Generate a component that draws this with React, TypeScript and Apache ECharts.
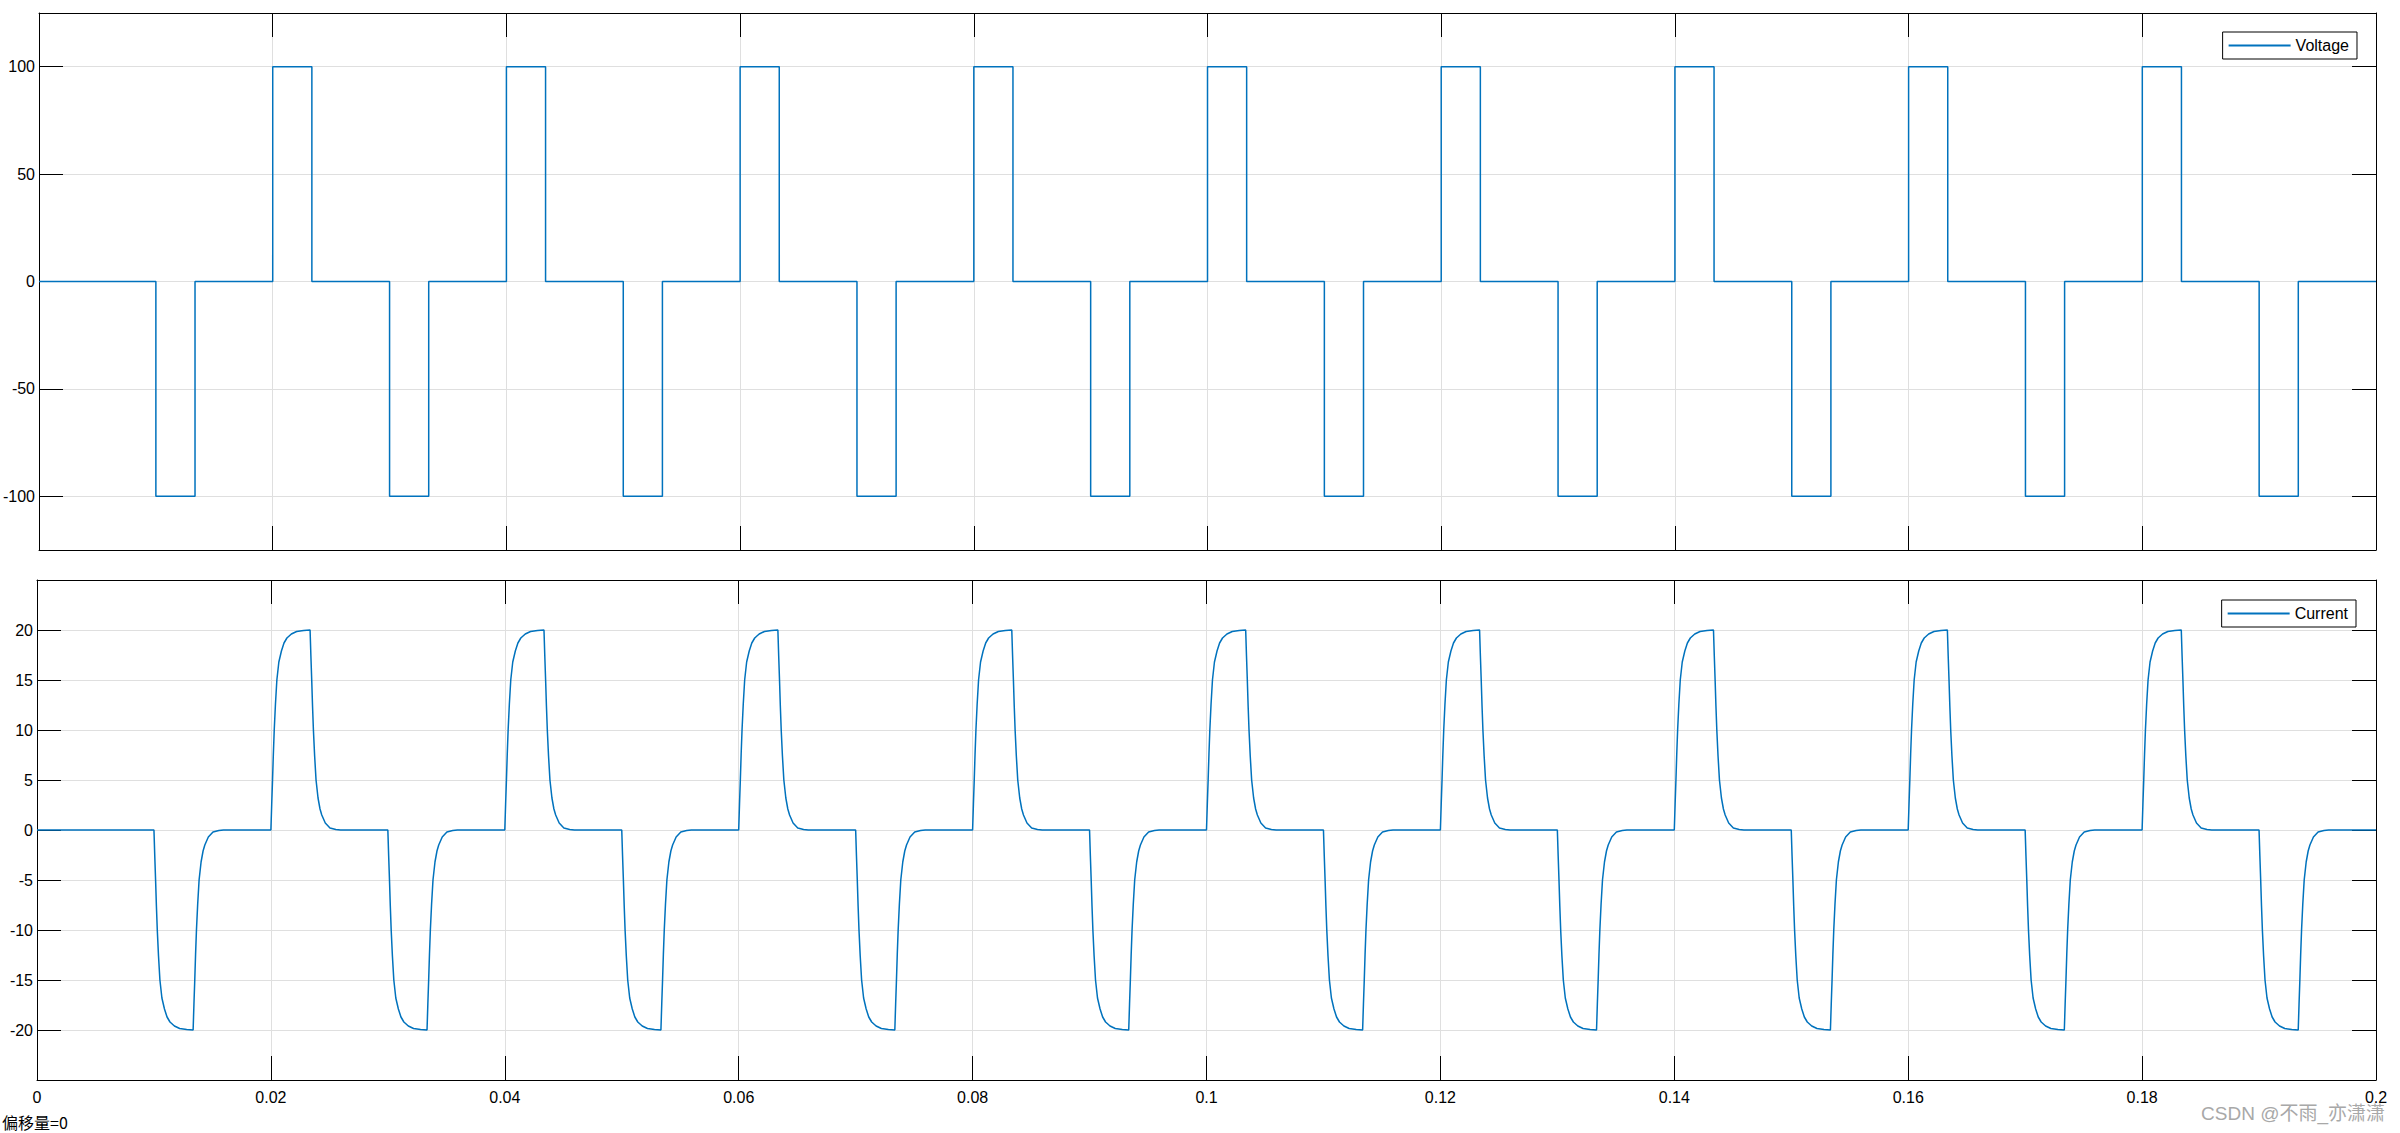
import React, { useEffect, useRef } from "react";
import * as echarts from "echarts";

// Pulse timing (seconds)
const positivePulseStarts = [0.02, 0.04, 0.06, 0.08, 0.1, 0.12, 0.14, 0.16, 0.18];
const negativePulseStarts = [0.01, 0.03, 0.05, 0.07, 0.09, 0.11, 0.13, 0.15, 0.17, 0.19];
const pulseWidth = 0.00335;
const voltageLevel = 100;

// Current pulse shape: time after pulse edge (ms) and value (A)
const currentRiseMs = [0, 0.07, 0.14, 0.21, 0.285, 0.39, 0.51, 0.68, 0.9, 1.12, 1.37, 1.75, 2.2, 2.8];
const currentRiseValue = [0, 2.6, 5, 7.6, 10, 12.6, 15, 16.8, 17.9, 18.7, 19.2, 19.6, 19.85, 19.95];
const currentFallMs = [0, 0.07, 0.14, 0.21, 0.285, 0.39, 0.51, 0.68, 0.85, 1.0, 1.3, 1.7, 2.2, 2.6];
const currentFallValue = [20, 17.4, 15, 12.4, 10, 7.4, 5, 3.2, 2.1, 1.5, 0.7, 0.2, 0.06, 0];

const xRange = [0, 0.2];
const voltageRange = [-125, 125];
const currentRange = [-25, 25];

const seriesNames = ["Voltage", "Current"];
const footerText = "偏移量=0";
const watermarkText = "CSDN @不雨_亦潇潇";

const FONT = '"Liberation Sans", Arial, Helvetica, sans-serif';
const LINE_COLOR = "#0072BD";
const AXIS_COLOR = "#000000";
const GRID_COLOR = "#dfdfdf";

const pulses = [
  ...positivePulseStarts.map((t) => ({ t, s: 1 })),
  ...negativePulseStarts.map((t) => ({ t, s: -1 })),
].sort((a, b) => a.t - b.t);

function buildVoltage(): number[][] {
  const d: number[][] = [[xRange[0], 0]];
  for (const p of pulses) {
    d.push([p.t, 0], [p.t, p.s * voltageLevel], [p.t + pulseWidth, p.s * voltageLevel], [p.t + pulseWidth, 0]);
  }
  d.push([xRange[1], 0]);
  return d;
}

function buildCurrent(): number[][] {
  const d: number[][] = [[xRange[0], 0]];
  for (const p of pulses) {
    currentRiseMs.forEach((ms, i) => {
      if (ms * 1e-3 < pulseWidth) d.push([p.t + ms * 1e-3, p.s * currentRiseValue[i]]);
    });
    currentFallMs.forEach((ms, i) => {
      d.push([p.t + pulseWidth + ms * 1e-3, p.s * currentFallValue[i]]);
    });
  }
  d.push([xRange[1], 0]);
  return d;
}

function xAxisCfg(gridIndex: number, position: string, labels: boolean, split: boolean) {
  return {
    type: "value",
    gridIndex,
    position,
    min: xRange[0],
    max: xRange[1],
    splitNumber: 10,
    axisLine: { show: true, onZero: false, lineStyle: { color: AXIS_COLOR, width: 1 } },
    axisTick: { show: true, inside: true, length: 24, lineStyle: { color: AXIS_COLOR, width: 1 } },
    axisLabel: {
      show: labels,
      fontSize: 16,
      color: "#000",
      fontFamily: FONT,
      margin: 9,
    },
    splitLine: { show: split, lineStyle: { color: GRID_COLOR, width: 1 } },
  };
}

function yAxisCfg(gridIndex: number, position: string, range: number[], splitNumber: number, labels: boolean, split: boolean) {
  return {
    type: "value",
    gridIndex,
    position,
    min: range[0],
    max: range[1],
    splitNumber,
    axisLine: { show: true, onZero: false, lineStyle: { color: AXIS_COLOR, width: 1 } },
    axisTick: { show: true, inside: true, length: 24, lineStyle: { color: AXIS_COLOR, width: 1 } },
    axisLabel: {
      show: labels,
      fontSize: 16,
      color: "#000",
      fontFamily: FONT,
      margin: 4,
      showMinLabel: false,
      showMaxLabel: false,
    },
    splitLine: { show: split, lineStyle: { color: GRID_COLOR, width: 1 } },
  };
}

function legendCfg(name: string, right: number, top: number) {
  return {
    data: [{ name, icon: "rect" }],
    right,
    top,
    orient: "horizontal",
    backgroundColor: "#ffffff",
    borderColor: "#000000",
    borderWidth: 1,
    borderRadius: 0,
    padding: [5, 8, 5, 6],
    itemWidth: 62,
    itemHeight: 2,
    itemGap: 0,
    itemStyle: { color: LINE_COLOR, borderWidth: 0 },
    textStyle: { fontSize: 16, color: "#000", fontFamily: FONT, lineHeight: 17 },
  };
}

export default function App() {
  const ref = useRef<HTMLDivElement>(null);
  useEffect(() => {
    document.body.style.margin = "0";
    if (!ref.current) return;
    const chart = echarts.init(ref.current, undefined, { renderer: "svg" });
    chart.setOption({
      animation: false,
      backgroundColor: "#ffffff",
      grid: [
        { left: 37, right: 24, top: 13, height: 537, containLabel: false },
        { left: 37, right: 24, top: 580, height: 500, containLabel: false },
      ],
      xAxis: [
        xAxisCfg(0, "bottom", false, true),
        xAxisCfg(0, "top", false, false),
        xAxisCfg(1, "bottom", true, true),
        xAxisCfg(1, "top", false, false),
      ],
      yAxis: [
        yAxisCfg(0, "left", voltageRange, 5, true, true),
        yAxisCfg(0, "right", voltageRange, 5, false, false),
        yAxisCfg(1, "left", currentRange, 10, true, true),
        yAxisCfg(1, "right", currentRange, 10, false, false),
      ],
      legend: [legendCfg(seriesNames[0], 43, 32), legendCfg(seriesNames[1], 44, 600)],
      series: [
        {
          name: seriesNames[0],
          type: "line",
          xAxisIndex: 0,
          yAxisIndex: 0,
          data: buildVoltage(),
          symbol: "none",
          showSymbol: false,
          lineStyle: { color: LINE_COLOR, width: 1.5 },
          itemStyle: { color: LINE_COLOR },
        },
        {
          name: seriesNames[1],
          type: "line",
          xAxisIndex: 2,
          yAxisIndex: 2,
          data: buildCurrent(),
          symbol: "none",
          showSymbol: false,
          lineStyle: { color: LINE_COLOR, width: 1.5 },
          itemStyle: { color: LINE_COLOR },
        },
      ],
      graphic: [
        {
          type: "text",
          left: 2,
          top: 1114,
          style: { text: footerText, fill: "#000", font: '16px "Noto Sans CJK SC", ' + FONT },
        },
        {
          type: "text",
          right: 15,
          top: 1104,
          style: { text: watermarkText, fill: "#a8a8a8", font: '19px ' + FONT + ', "Noto Sans CJK SC"' },
        },
      ],
    });
    return () => chart.dispose();
  }, []);
  return <div ref={ref} style={{ width: 2400, height: 1133 }} />;
}
